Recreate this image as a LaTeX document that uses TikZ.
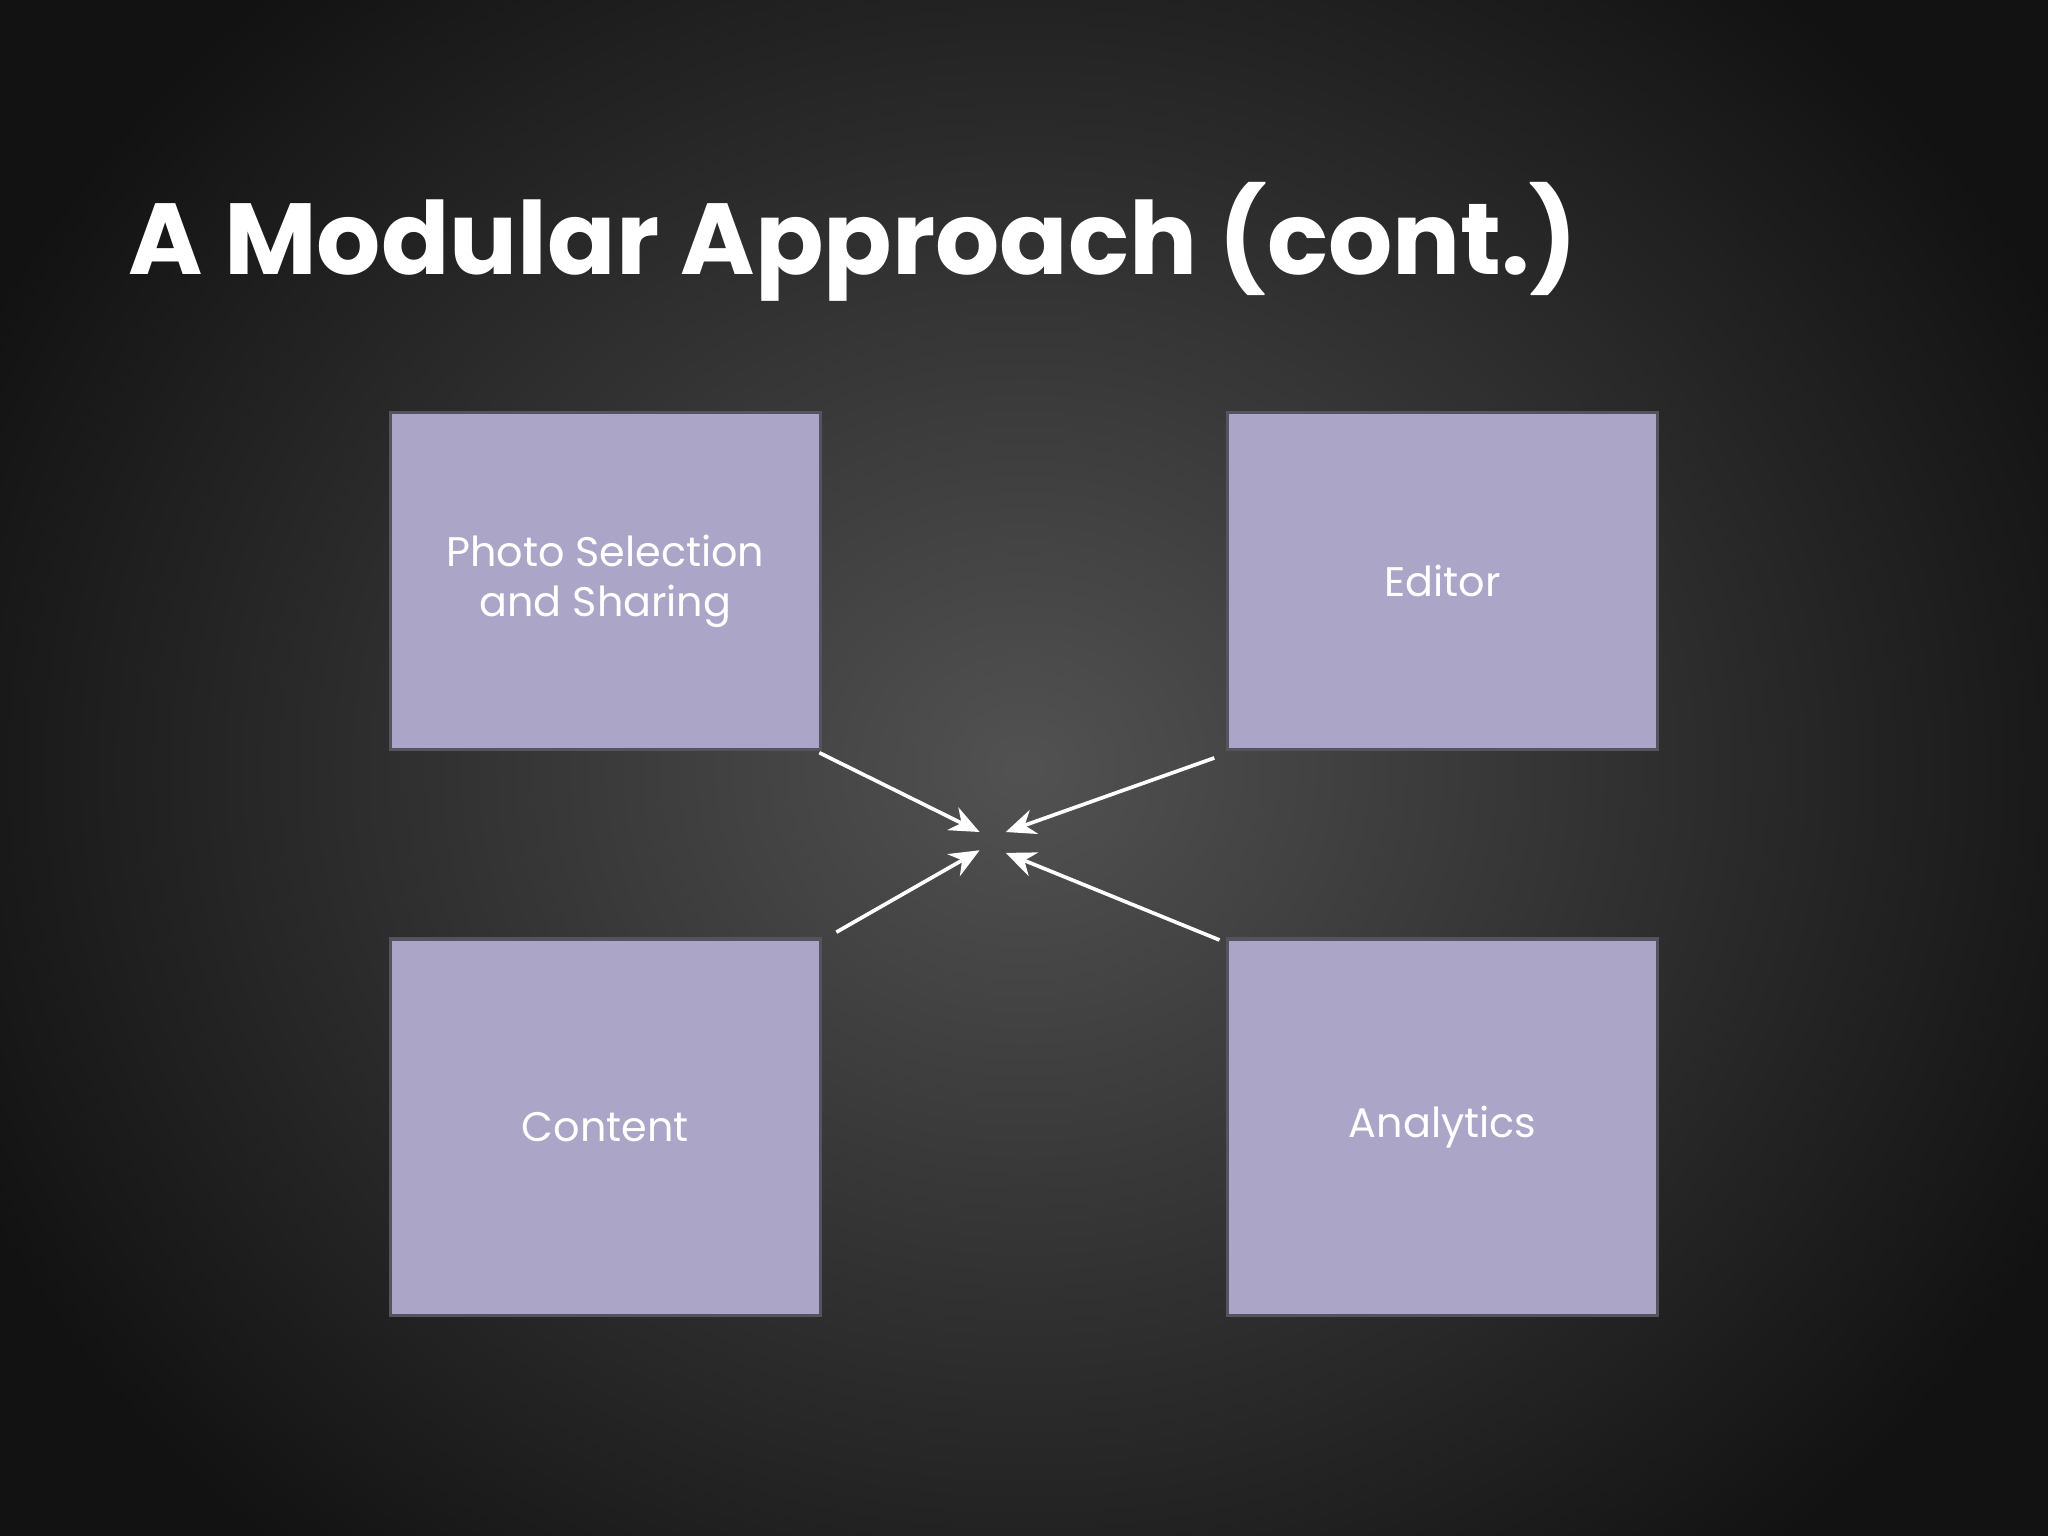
\documentclass[tikz,border=0pt]{standalone}
\usepackage{fontspec}
\setmainfont{Poppins}
\usetikzlibrary{arrows.meta}
\definecolor{boxfill}{HTML}{ABA6C8}
\definecolor{boxline}{HTML}{55535E}
\begin{document}
\begin{tikzpicture}[x=0.02cm,y=-0.02cm,
  box/.style={draw=boxline,line width=1.5pt,fill=boxfill,text=white,font=\fontsize{18}{22}\selectfont,align=center,inner sep=0pt},
  arr/.style={draw=white,line width=1.6pt,-{Stealth[length=13pt,width=11pt]}}]
\useasboundingbox (0,0) rectangle (1568,1176);
\shade[inner color=black!68,outer color=black!93] (-100,-200) rectangle (1668,1376);
\node[anchor=base west,text=white,font=\fontsize{44}{48}\selectfont\bfseries] (title) at (92,210) {A Modular Approach (cont.)};
\node[box,minimum width=329*0.02cm,minimum height=258*0.02cm] (ps) at (463.5,445) {Photo Selection\\and Sharing};
\node[box,minimum width=329*0.02cm,minimum height=258*0.02cm] (ed) at (1104.5,445) {Editor};
\node[box,minimum width=329*0.02cm,minimum height=288*0.02cm] (co) at (463.5,863) {Content};
\node[box,minimum width=329*0.02cm,minimum height=288*0.02cm] (an) at (1104.5,863) {Analytics};
\coordinate (c1) at (750,637);
\coordinate (c2) at (770,637);
\coordinate (c3) at (750,651);
\coordinate (c4) at (770,653);
\draw[arr] ([shift={(-2,1)}]ps.south east) -- (c1);
\draw[arr] ([shift={(-9,5)}]ed.south west) -- (c2);
\draw[arr] ([shift={(11,-4)}]co.north east) -- (c3);
\draw[arr] ([shift={(-5,2)}]an.north west) -- (c4);
\end{tikzpicture}
\end{document}
